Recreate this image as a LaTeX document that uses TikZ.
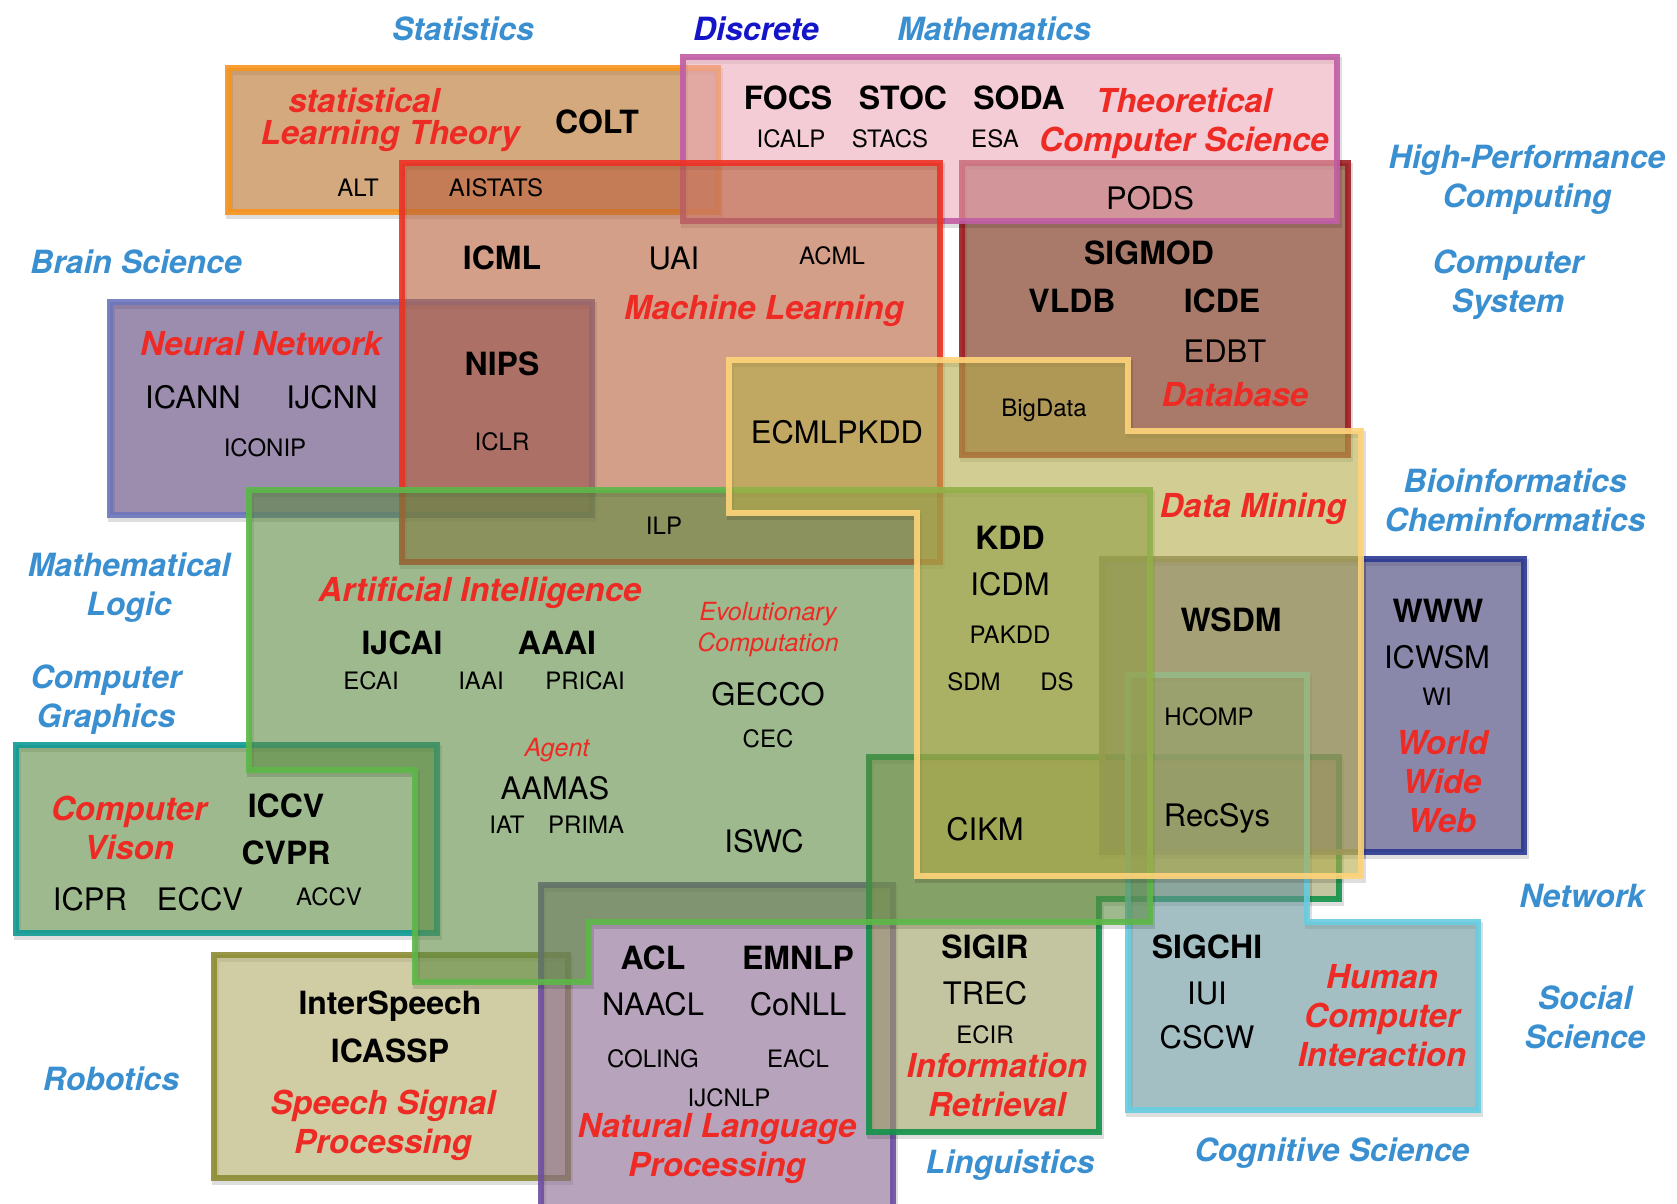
\documentclass[tikz,border=0pt]{standalone}
\usepackage{fontspec}
\setmainfont{TeX Gyre Heros}

\definecolor{fieldred}{RGB}{238,42,36}
\definecolor{domainblue}{RGB}{58,143,208}
\definecolor{discreteblue}{RGB}{20,20,200}
% borders
\definecolor{sltline}{RGB}{247,148,29}
\definecolor{tcsline}{RGB}{193,93,165}
\definecolor{mlline}{RGB}{238,49,36}
\definecolor{dbline}{RGB}{158,30,36}
\definecolor{nnline}{RGB}{108,118,188}
\definecolor{ailine}{RGB}{92,184,72}
\definecolor{cvline}{RGB}{14,154,150}
\definecolor{sspline}{RGB}{140,140,51}
\definecolor{nlpline}{RGB}{110,79,163}
\definecolor{irline}{RGB}{18,147,74}
\definecolor{wsdmline}{RGB}{122,122,110}
\definecolor{wwwline}{RGB}{43,57,145}
\definecolor{hciline}{RGB}{103,205,224}
\definecolor{dmline}{RGB}{255,212,122}
% fills
\definecolor{sltfill}{RGB}{183,112,40}
\definecolor{tcsfill}{RGB}{237,170,187}
\definecolor{mlfill}{RGB}{183,95,57}
\definecolor{dbfill}{RGB}{112,33,7}
\definecolor{nnfill}{RGB}{90,63,120}
\definecolor{aifill}{RGB}{92,138,65}
\definecolor{sspfill}{RGB}{177,170,102}
\definecolor{nlpfill}{RGB}{135,103,143}
\definecolor{irfill}{RGB}{155,157,97}
\definecolor{wsdmfill}{RGB}{70,70,140}
\definecolor{wwwfill}{RGB}{60,57,113}
\definecolor{hcifill}{RGB}{102,148,155}
\definecolor{dmfill}{RGB}{180,172,73}

\tikzset{
  area/.style={line width=6pt, fill opacity=0.6, draw opacity=0.9,
    preaction={draw=black, draw opacity=0.13, line width=7pt,
      transform canvas={xshift=1.5pt,yshift=-3.5pt}}},
  bigvenue/.style={font=\fontsize{32}{32}\selectfont\bfseries},
  venue/.style={font=\fontsize{31}{31}\selectfont},
  minorvenue/.style={font=\fontsize{24}{24}\selectfont},
  field/.style={text=fieldred, align=center, font=\fontsize{33}{39}\selectfont\bfseries\itshape},
  subfield/.style={text=fieldred, align=center, font=\fontsize{25}{31}\selectfont\itshape},
  discipline/.style={text=domainblue, align=center, font=\fontsize{32}{39}\selectfont\bfseries\itshape},
}

\begin{document}
\begin{tikzpicture}[x=1pt,y=-1pt]
\useasboundingbox (0,0) rectangle (1677,1203);

% research areas
\draw[area,draw=sltline,fill=sltfill] (228,68) rectangle (718,212);
\draw[area,draw=dbline,fill=dbfill] (962,163) rectangle (1348,455);
\draw[area,draw=tcsline,fill=tcsfill] (683,57) rectangle (1337,221);
\draw[area,draw=nnline,fill=nnfill] (110,302) rectangle (592,515);
\draw[area,draw=mlline,fill=mlfill] (402,163) rectangle (940,562);
\draw[area,draw=cvline,fill=aifill] (16,745) rectangle (437,933);
\draw[area,draw=sspline,fill=sspfill] (214,955) rectangle (568,1178);
\draw[area,draw=nlpline,fill=nlpfill] (541,885) rectangle (893,1215);
\draw[area,draw=irline,fill=irfill] (869,757) -- (1339,757) -- (1339,899) -- (1099,899) -- (1099,1132) -- (869,1132) -- cycle;
\draw[area,draw=wsdmline,fill=wsdmfill] (1102,559) rectangle (1361,852);
\draw[area,draw=hciline,fill=hcifill] (1128,675) -- (1307,675) -- (1307,922) -- (1478,922) -- (1478,1110) -- (1128,1110) -- cycle;
\draw[area,draw=wwwline,fill=wwwfill] (1361,559) rectangle (1524,852);
\draw[area,draw=ailine,fill=aifill] (249,490) -- (1150,490) -- (1150,922) -- (589,922) -- (589,982) -- (415,982) -- (415,770) -- (249,770) -- cycle;
\draw[area,draw=dmline,fill=dmfill] (729,360) -- (1128,360) -- (1128,431) -- (1361,431) -- (1361,876) -- (917,876) -- (917,513) -- (729,513) -- cycle;

% neighbouring disciplines
\node[discipline] (stats) at (463,29) {Statistics};
\node[discipline,text=discreteblue] (discrete) at (756,29) {Discrete};
\node[discipline] (maths) at (994,29) {Mathematics};
\node[discipline] (hpc) at (1527,180) {High-Performance\\Computing};
\node[discipline] (compsys) at (1508,285) {Computer\\System};
\node[discipline] (brain) at (136,262) {Brain Science};
\node[discipline] (bioinfo) at (1515,500) {Bioinformatics\\Cheminformatics};
\node[discipline] (logic) at (129,588) {Mathematical\\Logic};
\node[discipline] (graphics) at (106,700) {Computer\\Graphics};
\node[discipline] (network) at (1582,896) {Network};
\node[discipline] (social) at (1585,1017) {Social\\Science};
\node[discipline] (robotics) at (111,1079) {Robotics};
\node[discipline] (linguistics) at (1010,1165) {Linguistics};
\node[discipline] (cogsci) at (1332,1153) {Cognitive Science};

% area names
\node[field] (sltA) at (364,100) {statistical};
\node[field] (sltB) at (390,136) {Learning Theory};
\node[field] (tcs) at (1184,123) {Theoretical\\Computer Science};
\node[field] (ml) at (764,311) {Machine Learning};
\node[field] (db) at (1235,395) {Database};
\node[field] (nn) at (261,344) {Neural Network};
\node[field] (dm) at (1253,509) {Data Mining};
\node[field] (ai) at (480,593) {Artificial Intelligence};
\node[subfield] (evo) at (768,630) {Evolutionary\\Computation};
\node[subfield] (agent) at (557,750) {Agent};
\node[field] (web) at (1442,782) {World\\Wide\\Web};
\node[field] (cv) at (129,828) {Computer\\Vison};
\node[field] (ssp) at (383,1125) {Speech Signal\\Processing};
\node[field] (nlp) at (717,1149) {Natural Language\\Processing};
\node[field] (ir) at (997,1085) {Information\\Retrieval};
\node[field] (hci) at (1382,1016) {Human\\Computer\\Interaction};

% venues
\node[bigvenue] (colt) at (597,122) {COLT};
\node[minorvenue] (alt) at (358,188) {ALT};
\node[minorvenue] (aistats) at (496,188) {AISTATS};
\node[bigvenue] (focs) at (788,98) {FOCS};
\node[bigvenue] (stoc) at (903,98) {STOC};
\node[bigvenue] (soda) at (1019,98) {SODA};
\node[minorvenue] (icalp) at (791,139) {ICALP};
\node[minorvenue] (stacs) at (890,139) {STACS};
\node[minorvenue] (esa) at (995,139) {ESA};
\node[venue] (pods) at (1150,198) {PODS};
\node[bigvenue] (icml) at (502,258) {ICML};
\node[venue] (uai) at (674,258) {UAI};
\node[minorvenue] (acml) at (832,256) {ACML};
\node[bigvenue] (sigmod) at (1149,253) {SIGMOD};
\node[bigvenue] (vldb) at (1072,301) {VLDB};
\node[bigvenue] (icde) at (1222,301) {ICDE};
\node[venue] (edbt) at (1225,351) {EDBT};
\node[minorvenue] (bigdata) at (1044,410) {BigData};
\node[venue] (icann) at (193,397) {ICANN};
\node[venue] (ijcnn) at (332,397) {IJCNN};
\node[minorvenue] (iconip) at (265,448) {ICONIP};
\node[bigvenue] (nips) at (502,364) {NIPS};
\node[minorvenue] (iclr) at (502,442) {ICLR};
\node[venue] (ecmlpkdd) at (837,432) {ECMLPKDD};
\node[minorvenue] (ilp) at (664,526) {ILP};
\node[bigvenue] (kdd) at (1010,538) {KDD};
\node[venue] (icdm) at (1010,584) {ICDM};
\node[minorvenue] (pakdd) at (1010,635) {PAKDD};
\node[minorvenue] (sdm) at (974,682) {SDM};
\node[minorvenue] (ds) at (1057,682) {DS};
\node[bigvenue] (ijcai) at (402,643) {IJCAI};
\node[bigvenue] (aaai) at (557,643) {AAAI};
\node[minorvenue] (ecai) at (371,681) {ECAI};
\node[minorvenue] (iaai) at (481,681) {IAAI};
\node[minorvenue] (pricai) at (585,681) {PRICAI};
\node[venue] (gecco) at (768,694) {GECCO};
\node[minorvenue] (cec) at (768,739) {CEC};
\node[venue] (aamas) at (555,788) {AAMAS};
\node[minorvenue] (iat) at (507,825) {IAT};
\node[minorvenue] (prima) at (586,825) {PRIMA};
\node[venue] (iswc) at (764,841) {ISWC};
\node[bigvenue] (wsdm) at (1231,620) {WSDM};
\node[minorvenue] (hcomp) at (1209,717) {HCOMP};
\node[venue] (recsys) at (1217,818) {RecSys};
\node[bigvenue] (www) at (1438,611) {WWW};
\node[venue] (icwsm) at (1437,657) {ICWSM};
\node[minorvenue] (wi) at (1437,697) {WI};
\node[venue] (cikm) at (985,829) {CIKM};
\node[bigvenue] (iccv) at (286,806) {ICCV};
\node[bigvenue] (cvpr) at (286,853) {CVPR};
\node[venue] (icpr) at (90,899) {ICPR};
\node[venue] (eccv) at (200,899) {ECCV};
\node[minorvenue] (accv) at (329,897) {ACCV};
\node[bigvenue] (interspeech) at (390,1006) {InterSpeech};
\node[bigvenue] (icassp) at (390,1051) {ICASSP};
\node[bigvenue] (acl) at (653,958) {ACL};
\node[bigvenue] (emnlp) at (798,958) {EMNLP};
\node[venue] (naacl) at (653,1004) {NAACL};
\node[venue] (conll) at (798,1004) {CoNLL};
\node[minorvenue] (coling) at (653,1059) {COLING};
\node[minorvenue] (eacl) at (798,1059) {EACL};
\node[minorvenue] (ijcnlp) at (729,1098) {IJCNLP};
\node[bigvenue] (sigir) at (985,947) {SIGIR};
\node[venue] (trec) at (985,993) {TREC};
\node[minorvenue] (ecir) at (985,1035) {ECIR};
\node[bigvenue] (sigchi) at (1207,947) {SIGCHI};
\node[venue] (iui) at (1207,993) {IUI};
\node[venue] (cscw) at (1207,1037) {CSCW};
\end{tikzpicture}
\end{document}
